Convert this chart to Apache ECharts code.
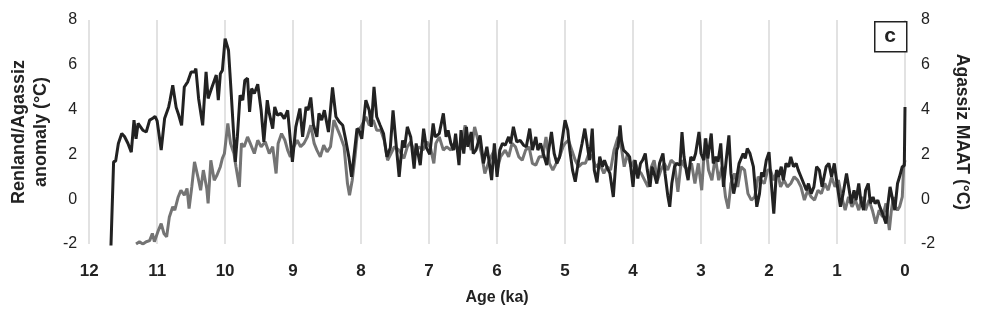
<!DOCTYPE html>
<html>
<head>
<meta charset="utf-8">
<script src="https://cdn.jsdelivr.net/npm/echarts@6/dist/echarts.min.js"></script>
<style>html,body{margin:0;padding:0;background:#fff}#c{width:1000px;height:320px}</style>
</head>
<body>
<div id="c"></div>
<script>
// Tick labels
const xTicks = [0,1,2,3,4,5,6,7,8,9,10,11,12];
const yTicks = [-2,0,2,4,6,8];

// Renland (gray) series: age (ka) and anomaly (°C)
const renlandAge = [11.31,11.26,11.21,11.16,11.11,11.07,11.04,10.98,10.94,10.90,10.86,10.82,10.77,10.74,10.69,10.65,10.60,10.56,10.53,10.49,10.45,10.40,10.36,10.32,10.27,10.25,10.21,10.16,10.12,10.07,10.04,10.01,9.96,9.92,9.87,9.84,9.79,9.76,9.72,9.67,9.63,9.57,9.52,9.47,9.41,9.35,9.30,9.25,9.22,9.17,9.12,9.08,9.04,8.99,8.94,8.89,8.84,8.79,8.74,8.69,8.65,8.60,8.55,8.50,8.45,8.40,8.35,8.30,8.25,8.20,8.17,8.13,8.09,8.05,8.00,7.93,7.88,7.82,7.77,7.71,7.66,7.61,7.56,7.51,7.44,7.37,7.32,7.27,7.21,7.15,7.09,7.03,6.98,6.93,6.90,6.85,6.79,6.74,6.68,6.63,6.58,6.53,6.47,6.43,6.38,6.33,6.28,6.23,6.18,6.13,6.09,6.04,6.00,5.95,5.88,5.83,5.78,5.73,5.68,5.63,5.58,5.53,5.48,5.43,5.38,5.33,5.28,5.23,5.18,5.13,5.08,5.03,5.00,4.95,4.90,4.85,4.80,4.75,4.70,4.65,4.60,4.55,4.49,4.43,4.38,4.33,4.28,4.22,4.18,4.13,4.08,4.03,3.98,3.93,3.88,3.83,3.78,3.73,3.69,3.64,3.59,3.54,3.49,3.44,3.39,3.34,3.29,3.24,3.19,3.14,3.09,3.04,2.99,2.94,2.89,2.84,2.79,2.74,2.69,2.64,2.60,2.56,2.51,2.46,2.41,2.36,2.31,2.26,2.21,2.16,2.12,2.07,2.02,1.98,1.93,1.88,1.83,1.78,1.73,1.68,1.63,1.58,1.53,1.48,1.43,1.38,1.33,1.28,1.23,1.18,1.13,1.08,1.03,0.98,0.93,0.88,0.83,0.78,0.73,0.68,0.63,0.58,0.53,0.48,0.43,0.38,0.33,0.28,0.23,0.20,0.17,0.14,0.11,0.08,0.04,0.02,0.00];
const renlandTemp = [-2.0,-1.9,-2.0,-1.9,-1.85,-1.53,-1.9,-1.38,-1.09,-1.53,-1.68,-0.79,-0.34,-0.49,0.1,0.4,0.18,0.48,-0.42,0.55,1.67,1.0,0.4,1.3,0.48,-0.19,1.74,0.85,1.07,1.45,1.82,2.04,3.38,2.49,2.04,1.45,0.55,2.49,2.34,2.78,2.49,2.04,2.63,2.34,2.56,2.04,2.34,1.15,2.49,2.93,2.63,2.19,1.89,2.34,2.63,2.34,2.49,2.78,3.3,2.49,2.19,1.89,2.41,2.11,2.34,3.53,3.15,2.78,2.34,0.7,0.18,0.85,1.89,3.08,3.23,3.68,3.3,3.53,3.08,3.08,2.63,1.74,2.04,2.34,2.19,1.82,2.34,2.56,2.04,2.34,2.19,2.56,2.3,1.6,2.49,2.78,2.19,2.34,2.19,2.49,2.19,2.26,3.3,2.78,2.19,3.23,2.63,2.04,1.15,1.6,1.89,2.19,1.3,1.89,2.19,1.89,2.49,2.34,1.89,1.74,2.19,2.34,1.6,1.52,1.89,1.89,2.78,1.6,1.3,1.6,1.89,2.34,2.49,2.63,2.19,1.74,1.45,1.6,1.6,2.04,1.89,1.45,1.6,1.15,1.45,1.3,2.19,2.78,2.49,1.45,2.04,1.45,1.74,1.3,1.15,0.85,0.55,1.45,1.74,0.85,1.3,1.6,1.3,1.74,1.6,0.33,1.74,1.45,1.3,1.6,0.7,1.6,0.4,2.71,1.3,0.85,1.89,0.85,1.45,0.1,-0.42,0.7,1.15,0.55,1.45,1.3,0.25,-0.04,0.1,1.0,0.85,0.7,1.3,1.3,0.85,1.3,0.55,0.85,0.55,0.7,1.0,0.85,0.55,-0.04,0.4,0.1,-0.04,0.4,0.25,0.7,0.4,1.0,0.55,0.85,0.1,-0.49,0.1,-0.34,-0.04,-0.49,0.1,-0.49,-0.04,-0.49,-1.09,-0.49,-0.79,-0.19,-1.38,-0.49,0.1,-0.34,-0.49,-0.34,0.1,1.45,1.74];

// Agassiz (black) series: age (ka) and MAAT anomaly (°C)
const agassizAge = [11.68,11.64,11.61,11.57,11.52,11.48,11.43,11.38,11.34,11.31,11.28,11.21,11.16,11.11,11.07,11.03,11.00,10.94,10.89,10.83,10.81,10.77,10.72,10.69,10.64,10.60,10.55,10.50,10.45,10.43,10.39,10.33,10.28,10.25,10.20,10.13,10.10,10.07,10.04,10.00,9.95,9.91,9.85,9.82,9.78,9.74,9.71,9.67,9.64,9.61,9.57,9.52,9.47,9.43,9.38,9.35,9.30,9.27,9.23,9.18,9.13,9.08,9.04,9.01,8.96,8.90,8.86,8.81,8.78,8.74,8.70,8.65,8.62,8.58,8.54,8.48,8.42,8.37,8.32,8.27,8.23,8.18,8.14,8.10,8.06,8.03,7.99,7.93,7.88,7.85,7.81,7.77,7.72,7.67,7.62,7.57,7.53,7.49,7.44,7.39,7.36,7.32,7.27,7.22,7.19,7.13,7.08,7.04,6.99,6.94,6.91,6.85,6.82,6.79,6.75,6.72,6.68,6.64,6.61,6.56,6.53,6.49,6.45,6.43,6.38,6.35,6.31,6.25,6.20,6.15,6.12,6.08,6.04,6.00,5.96,5.92,5.88,5.83,5.80,5.76,5.71,5.66,5.61,5.57,5.52,5.48,5.43,5.40,5.36,5.32,5.27,5.24,5.20,5.16,5.12,5.08,5.05,5.00,4.96,4.93,4.89,4.85,4.80,4.75,4.71,4.67,4.64,4.60,4.57,4.53,4.49,4.45,4.42,4.38,4.34,4.29,4.24,4.22,4.19,4.17,4.14,4.09,4.05,4.00,3.97,3.93,3.89,3.86,3.82,3.79,3.75,3.72,3.69,3.65,3.61,3.56,3.53,3.49,3.46,3.43,3.39,3.36,3.31,3.28,3.25,3.21,3.19,3.15,3.11,3.08,3.03,3.00,2.96,2.93,2.90,2.85,2.82,2.78,2.75,2.71,2.67,2.63,2.59,2.56,2.52,2.48,2.44,2.38,2.35,2.32,2.28,2.23,2.18,2.14,2.11,2.08,2.04,2.00,1.97,1.93,1.89,1.86,1.82,1.79,1.75,1.71,1.68,1.64,1.60,1.57,1.53,1.49,1.45,1.42,1.38,1.34,1.30,1.26,1.22,1.19,1.16,1.12,1.08,1.04,1.00,0.95,0.91,0.86,0.82,0.79,0.75,0.72,0.68,0.65,0.61,0.58,0.54,0.51,0.47,0.44,0.40,0.37,0.33,0.28,0.25,0.22,0.18,0.15,0.11,0.08,0.04,0.01,0.00];
const agassizTemp = [-2.2,1.67,1.7,2.49,2.93,2.8,2.5,2.1,3.53,2.7,3.38,3.08,3.0,3.53,3.6,3.7,3.5,2.19,3.6,4.12,4.42,5.09,4.1,3.83,3.3,5.01,5.24,5.68,5.68,5.83,4.5,3.3,5.68,4.5,4.94,5.54,4.42,5.6,5.75,7.17,6.65,4.72,1.67,2.78,4.64,4.42,5.3,5.4,3.9,4.94,4.72,5.13,3.97,2.56,4.42,3.83,3.15,4.12,3.75,3.83,3.6,3.97,2.63,1.67,3.23,4.05,2.78,4.12,3.97,4.54,3.3,2.78,3.83,3.53,3.97,3.0,4.99,3.68,3.45,3.3,2.71,1.89,1.0,2.05,3.15,3.08,2.7,4.42,3.97,3.23,5.01,3.68,3.3,2.93,1.89,2.3,3.97,2.63,1.0,2.63,2.3,3.23,2.78,1.37,2.49,1.52,3.15,2.3,2.0,3.38,2.78,2.93,3.38,3.83,2.78,3.08,2.49,2.19,2.93,1.52,3.08,2.04,3.23,2.34,3.0,2.04,2.19,2.85,1.6,2.34,1.74,0.85,2.49,1.0,2.19,2.49,2.41,2.78,2.49,3.23,2.56,2.63,2.41,2.34,3.15,2.19,2.78,2.19,2.49,2.04,1.52,2.19,3.0,2.04,1.6,1.89,2.49,3.53,3.08,2.19,1.3,0.78,1.74,2.49,3.15,2.34,1.74,3.15,1.3,0.75,1.9,1.45,1.74,1.4,1.15,0.1,2.19,2.34,3.3,2.63,2.19,2.04,1.89,0.55,1.74,0.92,1.6,1.74,2.04,1.3,0.55,1.45,1.15,0.7,1.6,2.04,1.15,0.18,-0.34,0.7,1.45,1.6,1.52,3.0,1.89,1.15,0.85,1.89,1.74,2.04,3.0,2.04,1.74,2.71,1.82,2.93,1.6,1.89,1.67,2.49,0.55,1.74,2.85,1.15,0.25,0.85,1.6,2.04,1.82,2.26,2.04,1.45,-0.34,0.25,1.2,1.0,1.74,2.1,0.85,-0.64,1.3,1.0,1.45,0.85,1.6,1.45,1.89,1.45,1.6,1.3,1.0,0.7,0.4,0.7,0.25,0.55,1.45,1.3,0.55,1.0,1.45,1.6,1.0,1.6,0.7,-0.34,0.25,1.15,0.4,-0.19,0.4,-0.04,0.7,-0.04,-0.49,0.4,0.7,-0.19,0.1,-0.19,-0.04,-0.34,-0.64,-1.09,-0.19,0.55,-0.04,-0.49,0.7,1.0,1.45,1.5,4.12];

const zip = (a, b) => a.map((v, i) => [v, b[i]]);
const FONT = '"Liberation Sans", Arial, sans-serif';

const chart = echarts.init(document.getElementById('c'), null, {renderer: 'canvas'});
chart.setOption({
  animation: false,
  backgroundColor: '#fff',
  grid: {left: 88, right: 95, top: 20, bottom: 76, containLabel: false},
  xAxis: {
    type: 'value', inverse: true, min: xTicks[0], max: xTicks[xTicks.length - 1], interval: 1,
    name: 'Age (ka)', nameLocation: 'middle', nameGap: 46,
    nameTextStyle: {fontFamily: FONT, fontSize: 16, fontWeight: 'bold', color: '#222'},
    axisLine: {show: false}, axisTick: {show: false},
    axisLabel: {margin: 19, fontFamily: FONT, fontSize: 17, fontWeight: 'bold', color: '#222'},
    splitLine: {show: true, lineStyle: {color: '#d9d9d9', width: 1.5}}
  },
  yAxis: [
    {
      type: 'value', min: yTicks[0], max: yTicks[yTicks.length - 1], interval: 2, position: 'left',
      name: 'Renland/Agassiz\nanomaly (°C)', nameLocation: 'middle', nameRotate: 90, nameGap: 35,
      nameTextStyle: {fontFamily: FONT, fontSize: 18, fontWeight: 'bold', color: '#222', lineHeight: 22},
      axisLine: {show: false}, axisTick: {show: false}, splitLine: {show: false},
      axisLabel: {margin: 12, fontFamily: FONT, fontSize: 16, color: '#222'}
    },
    {
      type: 'value', min: yTicks[0], max: yTicks[yTicks.length - 1], interval: 2, position: 'right',
      name: 'Agassiz MAAT (°C)', nameLocation: 'middle', nameRotate: -90, nameGap: 48,
      nameTextStyle: {fontFamily: FONT, fontSize: 17.5, fontWeight: 'bold', color: '#222'},
      axisLine: {show: false}, axisTick: {show: false}, splitLine: {show: false},
      axisLabel: {margin: 16, fontFamily: FONT, fontSize: 16, color: '#222'}
    }
  ],
  series: [
    {
      name: 'Renland', type: 'line', yAxisIndex: 0, data: zip(renlandAge, renlandTemp),
      symbol: 'none', clip: true, lineStyle: {color: '#747474', width: 3}
    },
    {
      name: 'Agassiz', type: 'line', yAxisIndex: 1, data: zip(agassizAge, agassizTemp),
      symbol: 'none', clip: true, lineStyle: {color: '#222222', width: 3}
    }
  ],
  graphic: [
    {type: 'rect', left: 874, top: 21, shape: {width: 32, height: 30}, style: {fill: '#fff', stroke: '#222', lineWidth: 1.5}, z: 100},
    {type: 'text', x: 890, y: 36, style: {text: 'c', fontFamily: FONT, fontSize: 21, fontWeight: 'bold', fill: '#222', align: 'center', verticalAlign: 'middle'}, z: 101}
  ]
});
</script>
</body>
</html>
